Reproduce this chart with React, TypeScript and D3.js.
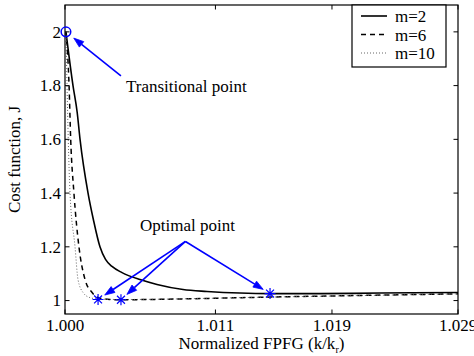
import * as d3 from 'd3';

// ─────────────────────────────────────────────────────────────────────────────
// Data (normalized FPFG k/kr vs cost function J)
// ─────────────────────────────────────────────────────────────────────────────

const kM2 = [1.00007, 1.00059, 1.0009, 1.00111, 1.0017, 1.0021, 1.00258, 1.00299, 1.00347, 1.00421, 1.00553, 1.00679, 1.00871, 1.01048, 1.01291, 1.01513, 1.0188, 1.02324, 1.029];
const jM2 = [2.0, 1.8, 1.7, 1.6, 1.4, 1.3, 1.2, 1.153, 1.127, 1.104, 1.078, 1.06, 1.041, 1.034, 1.028, 1.026, 1.026, 1.028, 1.03];

const kM6 = [1.00007, 1.0003, 1.00042, 1.00066, 1.00103, 1.00148, 1.002, 1.00244, 1.00332, 1.00413, 1.00849, 1.01513, 1.02177, 1.029];
const jM6 = [2.0, 1.8, 1.6, 1.4, 1.2, 1.078, 1.03, 1.011, 1.004, 1.003, 1.006, 1.013, 1.019, 1.025];

const kM10 = [1.00007, 1.00015, 1.00024, 1.00037, 1.00074, 1.00096, 1.00133, 1.00184, 1.00244, 1.00406, 1.01513, 1.029];
const jM10 = [2.0, 1.8, 1.6, 1.4, 1.2, 1.078, 1.03, 1.011, 1.006, 1.004, 1.013, 1.025];

const seriesNames = ['m=2', 'm=6', 'm=10'];

// optimal points (m=10, m=6, m=2) and the transitional point
const optK = [1.00244, 1.00413, 1.01513];
const optJ = [1.004, 1.003, 1.026];
const transK = 1.00007;
const transJ = 2.0;

const xTickValues = [1.0, 1.0111, 1.0197, 1.029];
const xTickLabels = ['1.000', '1.011', '1.019', '1.029'];
const yTickValues = [1, 1.2, 1.4, 1.6, 1.8, 2];

const W = 474;
const H = 356;
const FONT = "'Liberation Serif', 'DejaVu Serif', 'Times New Roman', Times, serif";
const BLUE = '#0000ff';

export default function App() {
  const x = d3.scaleLinear([1.0, 1.029], [65, 458]);
  const y = d3.scaleLinear([0.95, 2.1], [314, 5]);
  const [x0, x1] = x.range();
  const [y0, y1] = y.range();

  const line = d3
    .line<[number, number]>()
    .x((d) => x(d[0]))
    .y((d) => y(d[1]))
    .curve(d3.curveMonotoneX);

  const toPts = (ks: number[], js: number[]) =>
    ks.map((k, i) => [k, js[i]] as [number, number]);

  const series = [
    { name: seriesNames[0], d: line(toPts(kM2, jM2)) ?? '', dash: undefined, w: 1.6, c: '#000' },
    { name: seriesNames[1], d: line(toPts(kM6, jM6)) ?? '', dash: '5,4', w: 1.5, c: '#000' },
    { name: seriesNames[2], d: line(toPts(kM10, jM10)) ?? '', dash: '1,2', w: 1, c: '#666' },
  ];

  // arrow from a start point (data units) to a target, shortened by `gap` px
  const arrow = (fk: number, fj: number, tk: number, tj: number, gap: number) => {
    const sx = x(fk), sy = y(fj), tx = x(tk), ty = y(tj);
    const dx = sx - tx, dy = sy - ty;
    const len = Math.hypot(dx, dy);
    const ex = tx + (dx * gap) / len;
    const ey = ty + (dy * gap) / len;
    const ux = -dx / len, uy = -dy / len;
    const hl = 10, hw = 3.5;
    const bx = ex - ux * hl, by = ey - uy * hl;
    const head = `M${ex},${ey}L${bx - uy * hw},${by + ux * hw}L${bx + uy * hw},${by - ux * hw}Z`;
    return { sx, sy, bx, by, head };
  };

  const arrows = [
    arrow(1.00413, 1.836, transK, transJ, 10),
    ...optK.map((k, i) => arrow(1.00889, 1.22, k, optJ[i], 8)),
  ];

  const star = (cx: number, cy: number, r: number) => {
    const a = r * 0.72;
    return `M${cx - r},${cy}H${cx + r}M${cx},${cy - r}V${cy + r}M${cx - a},${cy - a}L${cx + a},${cy + a}M${cx - a},${cy + a}L${cx + a},${cy - a}`;
  };

  const tick = 4.5;

  return (
    <svg
      width={W}
      height={H}
      style={{ position: 'absolute', left: 0, top: 0, background: '#fff', fontFamily: FONT }}
      fontSize={17}
    >
      <rect x={0} y={0} width={W} height={H} fill='#fff' />

      {/* curves */}
      {series.map((s) => (
        <path
          key={s.name}
          d={s.d}
          fill='none'
          stroke={s.c}
          strokeWidth={s.w}
          strokeDasharray={s.dash}
        />
      ))}

      {/* ticks */}
      {xTickValues.map((v, i) => (
        <g key={'xt' + i}>
          <line x1={x(v)} x2={x(v)} y1={y0} y2={y0 - tick} stroke='#000' />
          <line x1={x(v)} x2={x(v)} y1={y1} y2={y1 + tick} stroke='#000' />
          <text x={x(v)} y={331} textAnchor='middle'>
            {xTickLabels[i]}
          </text>
        </g>
      ))}
      {yTickValues.map((v) => (
        <g key={'yt' + v}>
          <line x1={x0} x2={x0 + tick} y1={y(v)} y2={y(v)} stroke='#000' />
          <line x1={x1} x2={x1 - tick} y1={y(v)} y2={y(v)} stroke='#000' />
          <text x={61} y={y(v) + 5.8} textAnchor='end'>
            {d3.format('~g')(v)}
          </text>
        </g>
      ))}

      {/* axes box */}
      <rect x={x0} y={y1} width={x1 - x0} height={y0 - y1} fill='none' stroke='#000' strokeWidth={1.2} />

      {/* markers */}
      <circle cx={x(transK)} cy={y(transJ)} r={4.8} fill='none' stroke={BLUE} strokeWidth={1.5} />
      {optK.map((k, i) => (
        <path key={'st' + i} d={star(x(k), y(optJ[i]), 5.5)} stroke={BLUE} strokeWidth={1.2} fill='none' />
      ))}

      {/* annotation arrows */}
      {arrows.map((a, i) => (
        <g key={'ar' + i}>
          <line x1={a.sx} y1={a.sy} x2={a.bx} y2={a.by} stroke={BLUE} strokeWidth={1.6} />
          <path d={a.head} fill={BLUE} stroke={BLUE} strokeWidth={0.8} />
        </g>
      ))}
      <text x={126} y={92}>Transitional point</text>
      <text x={140} y={231}>Optimal point</text>

      {/* legend */}
      <rect x={352} y={5} width={94} height={62} fill='#fff' stroke='#000' strokeWidth={1.2} />
      {series.map((s, i) => (
        <g key={'lg' + i}>
          <line
            x1={361}
            x2={387}
            y1={16 + i * 18.5}
            y2={16 + i * 18.5}
            stroke={s.c}
            strokeWidth={s.w}
            strokeDasharray={s.dash}
          />
          <text x={395} y={22 + i * 18.5}>
            {s.name}
          </text>
        </g>
      ))}

      {/* axis labels */}
      <text x={(x0 + x1) / 2} y={348.5} textAnchor='middle'>
        Normalized FPFG (k/k
        <tspan dy={4} fontSize={10}>r</tspan>
        <tspan dy={-4}>)</tspan>
      </text>
      <text
        transform={`translate(20,${(y0 + y1) / 2}) rotate(-90)`}
        textAnchor='middle'
      >
        Cost function, J
      </text>
    </svg>
  );
}
